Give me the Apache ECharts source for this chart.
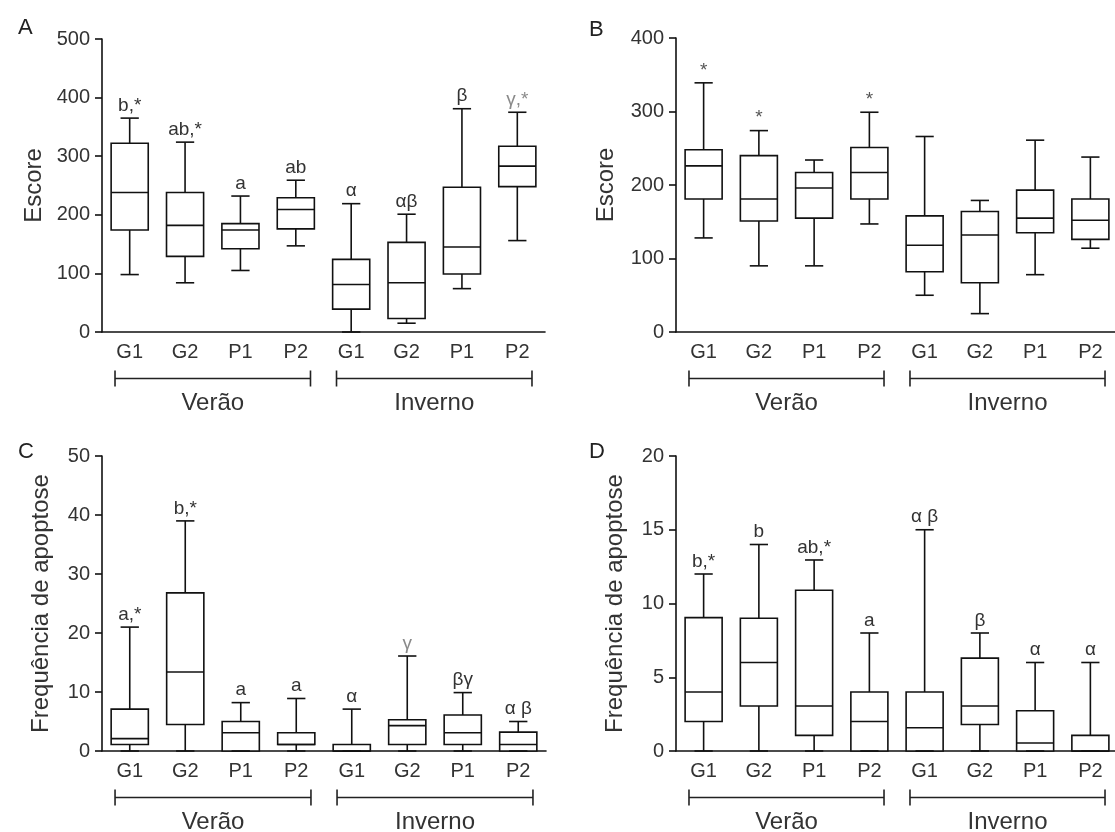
<!DOCTYPE html>
<html>
<head>
<meta charset="utf-8">
<title>Escore e frequência de apoptose</title>
<script src="https://cdn.jsdelivr.net/npm/echarts@6/dist/echarts.min.js"></script>
<style>
  html, body { margin: 0; padding: 0; background: #fff; }
  #chart { width: 1115px; height: 832px; }
</style>
</head>
<body>
<div id="chart"></div>
<script>
var categories = ["G1", "G2", "P1", "P2", "G1", "G2", "P1", "P2"];
var groupNames = ["Verão", "Inverno"];
var groupSpans = [[0, 3], [4, 7]];

// A - Escore
var aMin = [98, 84, 105, 147, 0, 15, 74, 156];
var aQ1 = [174, 129, 142, 176, 39, 23, 99, 248];
var aMed = [238, 182, 174, 209, 81, 84, 145, 283];
var aQ3 = [322, 238, 185, 229, 124, 153, 247, 317];
var aMax = [365, 324, 232, 259, 219, 201, 381, 375];
var aNotes = ["b,*", "ab,*", "a", "ab", "α", "αβ", "β", "γ,*"];

// B - Escore
var bMin = [128, 90, 90, 147, 50, 25, 78, 114];
var bQ1 = [181, 151, 155, 181, 82, 67, 135, 126];
var bMed = [226, 181, 196, 217, 118, 132, 155, 152];
var bQ3 = [248, 240, 217, 251, 158, 164, 193, 181];
var bMax = [339, 274, 234, 299, 266, 179, 261, 238];
var bNotes = ["*", "*", "", "*", "", "", "", ""];

// C - Frequência de apoptose
var cMin = [0, 0, 0, 0, 0, 0, 0, 0];
var cQ1 = [1.1, 4.5, 0, 1.1, 0, 1.1, 1.1, 0];
var cMed = [2.1, 13.4, 3.1, 1.1, 0, 4.3, 3.1, 1.1];
var cQ3 = [7.1, 26.8, 5.0, 3.1, 1.1, 5.3, 6.1, 3.2];
var cMax = [21, 39, 8.2, 8.9, 7.1, 16.1, 9.9, 5.0];
var cNotes = ["a,*", "b,*", "a", "a", "α", "γ", "βγ", "α β"];

// D - Frequência de apoptose
var dMin = [0, 0, 0, 0, 0, 0, 0, 0];
var dQ1 = [2.0, 3.05, 1.06, 0, 0, 1.8, 0, 0];
var dMed = [4, 6, 3.05, 2, 1.58, 3.05, 0.54, 0];
var dQ3 = [9.04, 9, 10.9, 4, 4, 6.3, 2.73, 1.06];
var dMax = [12, 14, 12.95, 8, 15, 8, 6, 6];
var dNotes = ["b,*", "b", "ab,*", "a", "α β", "β", "α", "α"];

var FONT = "'Liberation Sans', Arial, sans-serif";
var INK = "#111";

var panels = [
  { letter: "A", min: aMin, q1: aQ1, med: aMed, q3: aQ3, max: aMax, notes: aNotes,
    yMax: 500, step: 100, title: "Escore",
    grid: { left: 102, top: 39, width: 443, height: 293 }, nameGap: 56, lt: [13, 12] },
  { letter: "B", min: bMin, q1: bQ1, med: bMed, q3: bQ3, max: bMax, notes: bNotes,
    yMax: 400, step: 100, title: "Escore",
    grid: { left: 676, top: 38, width: 442, height: 294 }, nameGap: 58, lt: [584, 14] },
  { letter: "C", min: cMin, q1: cQ1, med: cMed, q3: cQ3, max: cMax, notes: cNotes,
    yMax: 50, step: 10, title: "Frequência de apoptose",
    grid: { left: 102, top: 456, width: 444, height: 295 }, nameGap: 49, lt: [13, 436] },
  { letter: "D", min: dMin, q1: dQ1, med: dMed, q3: dQ3, max: dMax, notes: dNotes,
    yMax: 20, step: 5, title: "Frequência de apoptose",
    grid: { left: 676, top: 456, width: 442, height: 295 }, nameGap: 49, lt: [584, 436] }
];

function noteColor(t) {
  if (t.indexOf("γ") === 0) return "#8a8a8a";
  if (t === "*") return "#555";
  return "#333";
}

function boxRenderer(notes) {
  return function (params, api) {
    var k = api.value(0);
    var pMin = api.coord([k, api.value(1)]);
    var pQ1 = api.coord([k, api.value(2)]);
    var pMed = api.coord([k, api.value(3)]);
    var pQ3 = api.coord([k, api.value(4)]);
    var pMax = api.coord([k, api.value(5)]);
    var band = api.size([1, 0])[0];
    var x = pMed[0];
    var hw = band * 0.335;
    var cw = band * 0.165;
    var st = { stroke: INK, lineWidth: 1.6 };
    var kids = [
      { type: "rect", shape: { x: x - hw, y: pQ3[1], width: hw * 2, height: pQ1[1] - pQ3[1] },
        style: { stroke: INK, lineWidth: 1.6, fill: "#fff" } },
      { type: "line", shape: { x1: x - hw, y1: pMed[1], x2: x + hw, y2: pMed[1] }, style: st },
      { type: "line", shape: { x1: x, y1: pQ3[1], x2: x, y2: pMax[1] }, style: st },
      { type: "line", shape: { x1: x - cw, y1: pMax[1], x2: x + cw, y2: pMax[1] }, style: st },
      { type: "line", shape: { x1: x, y1: pQ1[1], x2: x, y2: pMin[1] }, style: st },
      { type: "line", shape: { x1: x - cw, y1: pMin[1], x2: x + cw, y2: pMin[1] }, style: st }
    ];
    var t = notes[params.dataIndex];
    if (t) {
      kids.push({
        type: "text",
        style: { text: t, x: x, y: pMax[1] - 3, align: "center", verticalAlign: "bottom",
          fontSize: 19, fontFamily: FONT, fill: noteColor(t) }
      });
    }
    return { type: "group", children: kids };
  };
}

// colchetes de grupo (Verão / Inverno) abaixo do eixo
function bracketRenderer(params, api) {
  var a = api.coord([api.value(0), 0]);
  var b = api.coord([api.value(1), 0]);
  var band = api.size([1, 0])[0];
  var x1 = a[0] - band * 0.265;
  var x2 = b[0] + band * 0.265;
  var y = a[1] + 46.5;
  var st = { stroke: "#222", lineWidth: 1.6 };
  return {
    type: "group",
    children: [
      { type: "line", shape: { x1: x1, y1: y, x2: x2, y2: y }, style: st },
      { type: "line", shape: { x1: x1, y1: y - 8, x2: x1, y2: y + 8 }, style: st },
      { type: "line", shape: { x1: x2, y1: y - 8, x2: x2, y2: y + 8 }, style: st },
      { type: "text", style: { text: groupNames[params.dataIndex], x: (x1 + x2) / 2, y: y + 25,
          align: "center", verticalAlign: "middle", fontSize: 24, fontFamily: FONT, fill: "#333" } }
    ]
  };
}

var option = {
  backgroundColor: "#fff",
  animation: false,
  title: [],
  grid: [],
  xAxis: [],
  yAxis: [],
  series: []
};

panels.forEach(function (p, i) {
  option.title.push({
    text: p.letter, left: p.lt[0], top: p.lt[1],
    textStyle: { fontSize: 22, fontWeight: "normal", color: "#222", fontFamily: FONT }
  });
  option.grid.push({
    left: p.grid.left, top: p.grid.top, width: p.grid.width, height: p.grid.height,
    outerBoundsMode: "none", containLabel: false
  });
  option.xAxis.push({
    type: "category",
    gridIndex: i,
    data: categories,
    axisLine: { lineStyle: { color: INK, width: 1.6 } },
    axisTick: { alignWithLabel: true, length: 6, lineStyle: { color: INK, width: 1.6 } },
    axisLabel: { interval: 0, fontSize: 20, color: "#333", margin: 10, fontFamily: FONT },
    splitLine: { show: false }
  });
  option.yAxis.push({
    type: "value",
    gridIndex: i,
    min: 0,
    max: p.yMax,
    interval: p.step,
    name: p.title,
    nameLocation: "middle",
    nameRotate: 90,
    nameGap: p.nameGap,
    nameTextStyle: { fontSize: 24, color: "#333", fontFamily: FONT },
    axisLine: { show: true, lineStyle: { color: INK, width: 1.6 } },
    axisTick: { show: true, length: 7, lineStyle: { color: INK, width: 1.6 } },
    axisLabel: { fontSize: 20, color: "#333", margin: 12, fontFamily: FONT },
    splitLine: { show: false }
  });
  option.series.push({
    type: "custom",
    xAxisIndex: i,
    yAxisIndex: i,
    clip: false,
    silent: true,
    z: 3,
    encode: { x: 0, y: [1, 2, 3, 4, 5] },
    data: categories.map(function (c, k) {
      return [k, p.min[k], p.q1[k], p.med[k], p.q3[k], p.max[k]];
    }),
    renderItem: boxRenderer(p.notes)
  });
  option.series.push({
    type: "custom",
    xAxisIndex: i,
    yAxisIndex: i,
    clip: false,
    silent: true,
    encode: { x: 0, y: 2 },
    data: groupSpans.map(function (s) { return [s[0], s[1], 0]; }),
    renderItem: bracketRenderer
  });
});

var chart = echarts.init(document.getElementById("chart"));
chart.setOption(option);
</script>
</body>
</html>
